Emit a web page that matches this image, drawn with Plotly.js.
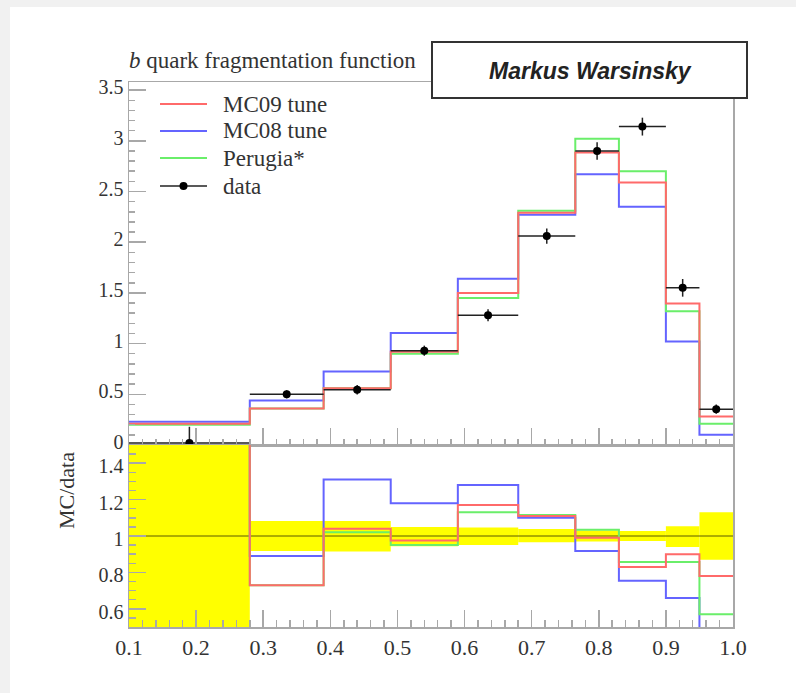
<!DOCTYPE html>
<html>
<head>
<meta charset="utf-8">
<script src="https://cdn.plot.ly/plotly-3.0.1.min.js"></script>
<style>
  html, body { margin: 0; padding: 0; background: #f1f1f1; width: 796px; height: 693px; overflow: hidden; }
  #chart { position: absolute; left: 10px; top: 7px; width: 786px; height: 686px; background: #fff; }
</style>
</head>
<body>
<div id="chart"></div>
<script>
// ---- data ----
const binEdges = [0.10, 0.28, 0.39, 0.49, 0.59, 0.68, 0.765, 0.83, 0.90, 0.95, 1.00];
const dataValues = [0.02, 0.50, 0.545, 0.93, 1.28, 2.06, 2.90, 3.14, 1.55, 0.353];
const dataErrors = [0.16, 0.04, 0.046, 0.05, 0.06, 0.075, 0.087, 0.088, 0.087, 0.046];
const mc09Values = [0.21, 0.36, 0.56, 0.92, 1.50, 2.29, 2.885, 2.59, 1.395, 0.28];
const mc08Values = [0.23, 0.44, 0.725, 1.105, 1.64, 2.27, 2.67, 2.35, 1.02, 0.10];
const perugiaValues = [0.20, 0.36, 0.56, 0.90, 1.45, 2.31, 3.02, 2.70, 1.32, 0.21];
const mc09Ratio = [10.5, 0.73, 1.04, 0.975, 1.17, 1.11, 0.99, 0.83, 0.90, 0.78];
const mc08Ratio = [11.5, 0.89, 1.31, 1.18, 1.28, 1.10, 0.917, 0.754, 0.66, 0.31];
const perugiaRatio = [10.0, 0.73, 1.02, 0.95, 1.13, 1.115, 1.035, 0.857, 0.857, 0.57];
const bandLow = [5, 0.082, 0.085, 0.056, 0.05, 0.034, 0.03, 0.027, 0.06, 0.13];
const bandHigh = [5, 0.082, 0.083, 0.05, 0.047, 0.038, 0.03, 0.028, 0.053, 0.13];
const xTickVals = [0.1, 0.2, 0.3, 0.4, 0.5, 0.6, 0.7, 0.8, 0.9, 1.0];
const xTickText = ["0.1", "0.2", "0.3", "0.4", "0.5", "0.6", "0.7", "0.8", "0.9", "1.0"];
const seriesNames = ["MC09 tune", "MC08 tune", "Perugia*", "data"];
const titleText = "<i>b</i> quark fragmentation function";
const authorText = "Markus Warsinsky";
const ratioTitle = "MC/data";

// ---- geometry helpers (page px -> paper) ----
const W = 786, H = 686, offX = 10, offY = 7;
const M = { l: 119, r: 63, t: 75, b: 66 };
const plotW = W - M.l - M.r, plotH = H - M.t - M.b;
const px = x => (x - offX - M.l) / plotW;
const py = y => (H - M.b - (y - offY)) / plotH;
const split = py(445);

const mids = binEdges.slice(0, -1).map((e, i) => (e + binEdges[i + 1]) / 2);
const halfW = binEdges.slice(0, -1).map((e, i) => (binEdges[i + 1] - e) / 2);
const stepY = v => v.concat([v[v.length - 1]]);

const RED = '#ff6a6a', BLUE = '#6464ff', GREEN = '#6aee6a', BLACK = '#222';
const seriesColors = [RED, BLUE, GREEN, BLACK];
const serif = 'Liberation Serif, Times New Roman, serif';

function step(vals, color, yaxis) {
  return {
    type: 'scatter', mode: 'lines', x: binEdges, y: stepY(vals),
    line: { shape: 'hv', color: color, width: 2 },
    xaxis: yaxis === 'y' ? 'x' : 'x2', yaxis: yaxis,
    showlegend: false, hoverinfo: 'skip'
  };
}

const traces = [
  {
    type: 'bar', x: mids, width: halfW.map(h => 2 * h),
    base: bandLow.map(l => 1 - l), y: bandLow.map((l, i) => l + bandHigh[i]),
    marker: { color: '#ffff00', line: { width: 0 } },
    xaxis: 'x2', yaxis: 'y2', showlegend: false, hoverinfo: 'skip'
  },
  {
    type: 'scatter', mode: 'lines', x: [binEdges[0], binEdges[binEdges.length - 1]], y: [1, 1],
    line: { color: '#5a5a00', width: 1 }, xaxis: 'x2', yaxis: 'y2', showlegend: false, hoverinfo: 'skip'
  },
  step(mc08Ratio, BLUE, 'y2'),
  step(perugiaRatio, GREEN, 'y2'),
  step(mc09Ratio, RED, 'y2'),
  step(mc08Values, BLUE, 'y'),
  step(perugiaValues, GREEN, 'y'),
  step(mc09Values, RED, 'y'),
  {
    type: 'scatter', mode: 'markers', x: mids, y: dataValues,
    marker: { color: '#000', size: 8 },
    error_x: { type: 'data', array: halfW, color: BLACK, thickness: 1.5, width: 0 },
    error_y: { type: 'data', array: dataErrors, color: BLACK, thickness: 1.5, width: 0 },
    xaxis: 'x', yaxis: 'y', showlegend: false, hoverinfo: 'skip'
  }
];

const axisCommon = {
  showgrid: false, zeroline: false, showline: true, mirror: true,
  linecolor: '#a8a8a8', linewidth: 1.5,
  ticks: 'inside', tickcolor: '#a8a8a8', tickwidth: 1.5, ticklen: 17,
  tickfont: { family: serif, size: 20, color: '#333' }
};

// manual legend (compact spacing as in the reference)
const legendRowsY = [104, 131, 158, 186];
const legendShapes = [], legendAnnots = [];
seriesNames.forEach((name, i) => {
  legendShapes.push({ type: 'line', xref: 'paper', yref: 'paper',
    x0: px(160), x1: px(207), y0: py(legendRowsY[i]), y1: py(legendRowsY[i]),
    line: { color: seriesColors[i], width: i === 3 ? 1.5 : 2 } });
  legendAnnots.push({ text: name, xref: 'paper', yref: 'paper', x: px(221), y: py(legendRowsY[i]),
    xanchor: 'left', yanchor: 'middle', showarrow: false,
    font: { family: serif, size: 23, color: '#333' } });
});
legendShapes.push({ type: 'circle', xref: 'paper', yref: 'paper',
  x0: px(179.5), x1: px(187.5), y0: py(legendRowsY[3] + 4), y1: py(legendRowsY[3] - 4),
  fillcolor: '#000', line: { color: '#000', width: 0 } });

const layout = {
  width: W, height: H,
  margin: M,
  paper_bgcolor: '#ffffff', plot_bgcolor: '#ffffff',
  showlegend: false,
  xaxis: Object.assign({}, axisCommon, {
    domain: [0, 1], range: [0.1, 1.0], anchor: 'y',
    tickvals: xTickVals, showticklabels: false,
    minor: { dtick: 0.02, ticklen: 6, tickcolor: '#a8a8a8', tickwidth: 1.5, ticks: 'inside' }
  }),
  yaxis: Object.assign({}, axisCommon, {
    domain: [split, 1], range: [0, 3.58], anchor: 'x',
    tickmode: 'linear', tick0: 0, dtick: 0.5, ticklabelshift: -3,
    minor: { dtick: 0.1, ticklen: 6, tickcolor: '#a8a8a8', tickwidth: 1.5, ticks: 'inside' }
  }),
  xaxis2: Object.assign({}, axisCommon, {
    domain: [0, 1], range: [0.1, 1.0], anchor: 'y2',
    tickvals: xTickVals, ticktext: xTickText,
    tickfont: { family: serif, size: 22, color: '#333' },
    minor: { dtick: 0.02, ticklen: 7, tickcolor: '#a8a8a8', tickwidth: 1.5, ticks: 'inside' }
  }),
  yaxis2: Object.assign({}, axisCommon, {
    domain: [0, split], range: [0.5, 1.5], anchor: 'x2',
    tickmode: 'linear', tick0: 0, dtick: 0.2, ticklabelshift: 3,
    minor: { dtick: 0.05, ticklen: 7, tickcolor: '#a8a8a8', tickwidth: 1.5, ticks: 'inside' }
  }),
  shapes: legendShapes.concat([
    { type: 'rect', xref: 'paper', yref: 'paper', x0: px(432), x1: px(747), y0: py(98), y1: py(42),
      fillcolor: '#ffffff', line: { color: '#333', width: 2 }, layer: 'above' }
  ]),
  annotations: legendAnnots.concat([
    { text: titleText, xref: 'paper', yref: 'paper', x: px(127), y: py(60), xanchor: 'left', yanchor: 'middle',
      showarrow: false, font: { family: serif, size: 23, color: '#333' } },
    { text: '<b><i>' + authorText + '</i></b>', xref: 'paper', yref: 'paper', x: px(590), y: py(71),
      xanchor: 'center', yanchor: 'middle', showarrow: false,
      font: { family: 'Liberation Sans, Arial, sans-serif', size: 23, color: '#222' } },
    { text: ratioTitle, xref: 'paper', yref: 'paper', x: px(66), y: py(491), textangle: -90,
      xanchor: 'center', yanchor: 'middle', showarrow: false,
      font: { family: serif, size: 22, color: '#333' } }
  ])
};

Plotly.newPlot('chart', traces, layout, { displayModeBar: false, staticPlot: true });
</script>
</body>
</html>
